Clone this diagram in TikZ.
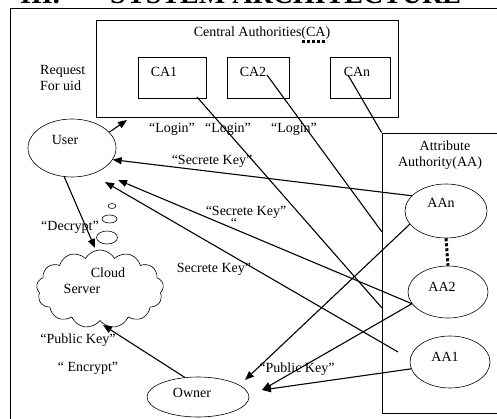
\documentclass[tikz,border=0pt]{standalone}
\usepackage{fontspec}
\setmainfont{Liberation Serif}
\usetikzlibrary{arrows.meta, positioning, shapes.geometric, shapes.symbols}

\begin{document}
\begin{tikzpicture}[x=1pt, y=-1pt,
    every node/.style={font=\fontsize{14}{16}\selectfont, inner sep=0pt},
    box/.style={draw, rectangle, line width=0.7pt},
    oval/.style={draw, ellipse, line width=0.6pt},
    link/.style={line width=1.1pt},
    arr/.style={link, -{Triangle[length=9pt, width=7pt]}},
    dots/.style={line width=3pt, dash pattern=on 3pt off 2pt}]
  \useasboundingbox (0,0) rectangle (497,419);
  \clip (0,0) rectangle (497,419);

  % heading, only its foot is seen
  \node[anchor=south west, font=\fontsize{28}{30}\selectfont\bfseries] (num) at (20,4) {III.};
  \node[anchor=south west, font=\fontsize{28}{30}\selectfont\bfseries] (title) at (110,4) {SYSTEM ARCHITECTURE};
  \draw[line width=0.7pt] (10,430) |- (510,8);

  % central authorities
  \node[box, minimum width=302pt, minimum height=97pt] (ca) at (247,68.5) {};
  \node (catext) at (262,33) {Central Authorities(CA)};
  \draw[dots] (302,42) -- (327,42);
  \node[box, minimum width=68pt, minimum height=41pt] (ca1) at (172,77.5) {};
  \node[box, minimum width=62pt, minimum height=41pt] (ca2) at (258,77.5) {};
  \node[box, minimum width=60pt, minimum height=41pt] (can) at (360,77.5) {};
  \node (ca1t) at (164,72) {CA1};
  \node (ca2t) at (253,72) {CA2};
  \node (cant) at (357,72) {CAn};
  \node[anchor=west, align=left] (req) at (40,78) {Request\\For uid};

  % attribute authority
  \node[box, minimum width=138pt, minimum height=280pt] (aa) at (451,273) {};
  \node[align=center] (aatext) at (440,155) {\hspace*{10pt}Attribute\\Authority(AA)};
  \node[oval, minimum width=82pt, minimum height=54pt] (aan) at (446,211) {};
  \node[oval, minimum width=80pt, minimum height=52pt] (aa2) at (448,292) {};
  \node[oval, minimum width=80pt, minimum height=52pt] (aa1) at (450,362) {};
  \node (aant) at (441,203) {AAn};
  \node (aa2t) at (442,287) {AA2};
  \node (aa1t) at (445,357) {AA1};
  \draw[dots] (aan.south) -- (aa2.north);

  % user, cloud, owner
  \node[oval, minimum width=88pt, minimum height=58pt] (user) at (72,148) {};
  \node (usert) at (65,140) {User};
  \node[oval, minimum width=8pt, minimum height=5pt] (bub1) at (112,206) {};
  \node[oval, minimum width=15pt, minimum height=8pt] (bub2) at (109.5,219) {};
  \node[oval, minimum width=21pt, minimum height=13pt] (bub3) at (107,237.5) {};
  \node[draw, cloud, cloud puffs=13, cloud puff arc=120, aspect=1.6,
        line width=0.6pt, minimum width=127pt, minimum height=78pt] (cloud) at (100,289) {};
  \node (cloudt) at (108,273) {Cloud};
  \node (servert) at (82,289) {Server};
  \node[oval, minimum width=102pt, minimum height=40pt] (owner) at (198,397) {};
  \node (ownert) at (192,393) {Owner};

  % free ends
  \coordinate (uida) at (127,120);
  \coordinate (sk2) at (118,180);
  \coordinate (sk3) at (105,182);
  \coordinate (aa1a) at (398,352);
  \coordinate (ca1a) at (197,97);
  \coordinate (ca2a) at (267,75);
  \coordinate (cana) at (348,75);
  \coordinate (ca1b) at (382,308);
  \coordinate (ca2b) at (382,232);
  \coordinate (dec) at (95,248);
  \coordinate (pub) at (103,325);
  \coordinate (own1) at (245,380);
  \coordinate (own2) at (262,390);

  % connectors
  \draw[arr] (user.23) -- (uida);
  \draw[link] (ca1a) -- (ca1b);
  \draw[link] (ca2a) -- (ca2b);
  \draw[link] (cana) -- (aa.north west);
  \draw[arr] (aan.156) -- (user.-16);
  \draw[arr] (aa2.198) -- (sk2);
  \draw[arr] (aa1a) -- (sk3);
  \draw[arr] (user.-105) -- (dec);
  \draw[arr] (owner.124) -- (pub);
  \draw[arr] (aan.200) -- (own1);
  \draw[arr] (aa2.198) -- (own2);
  \draw[arr] (aa1.190) -- (own2);

  % labels
  \node (login1) at (172,129) {``Login''};
  \node (login2) at (228,129) {``Login''};
  \node (login3) at (294,129) {``Login''};
  \node (sklab1) at (212,161) {``Secrete Key''};
  \node (sklab2) at (246,212) {``Secrete Key''};
  \node (sklab2b) at (234,223) {``};
  \node (sklab3) at (214,269) {Secrete Key''};
  \node (declab) at (70,227) {``Decrypt''};
  \node (publab) at (78,340) {``Public Key''};
  \node (enclab) at (88,368) {`` Encrypt''};
  \node (publab2) at (297,369) {``Public Key''};
\end{tikzpicture}
\end{document}
